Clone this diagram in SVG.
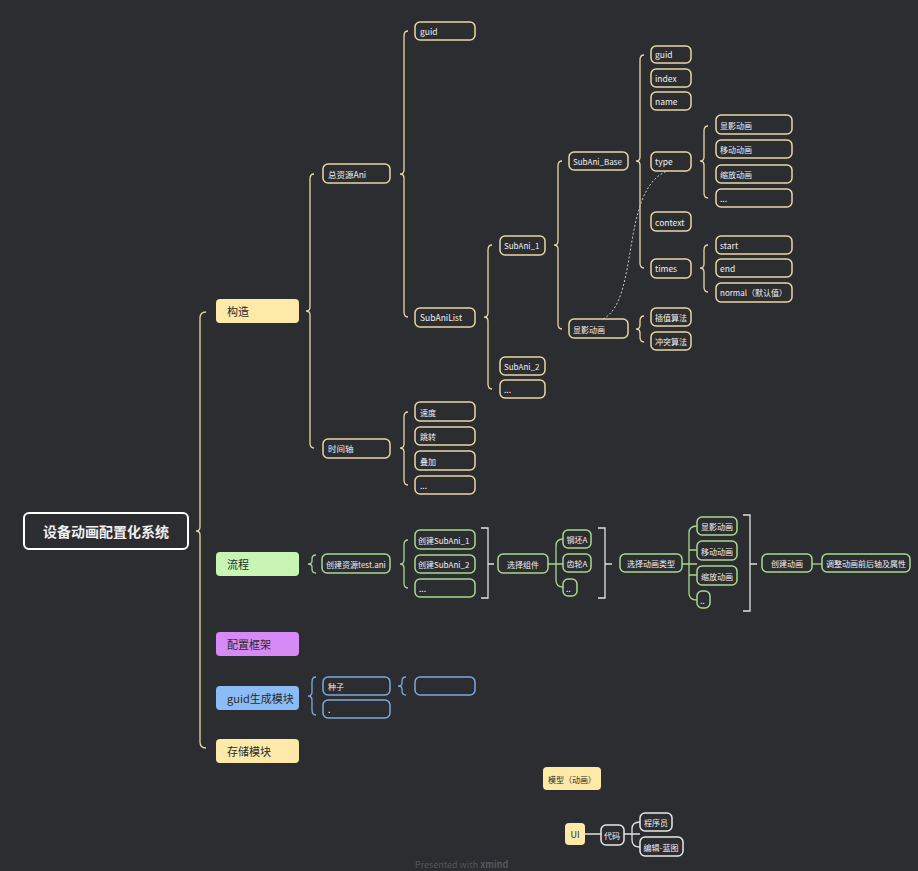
<svg xmlns="http://www.w3.org/2000/svg" width="918" height="871" viewBox="0 0 918 871">
<style>
text{font-family:"Noto Sans CJK SC","Noto Sans",sans-serif;font-size:8.5px;fill:#f0f0f0;dominant-baseline:central}
.y rect{fill:#2c2d30;stroke:#e6d7a3;stroke-width:1.5}
.g rect{fill:#2c2d30;stroke:#a9d68f;stroke-width:1.5}
.b rect{fill:#2c2d30;stroke:#7ea9dc;stroke-width:1.5}
.w rect{fill:#2c2d30;stroke:#e8e8e8;stroke-width:1.5}
.m text{fill:#2a2a2a;font-size:11px}
.by{fill:none;stroke:#e6d7a3;stroke-width:1.3}
.bg{fill:none;stroke:#a9d68f;stroke-width:1.3}
.bb{fill:none;stroke:#7ea9dc;stroke-width:1.3}
.bw{fill:none;stroke:#e0e0e0;stroke-width:1.3}
</style>
<rect width="918" height="871" fill="#2c2d30"/>
<g id="connectors">
<path class="by" d="M206 312 Q200 312 200 318 L200 527 Q200 531 196 531 Q200 531 200 535 L200 742 Q200 748 206 748"/>
<path class="by" d="M314 174 Q310 174 310 179 L310 307 Q310 311 306 311 Q310 311 310 315 L310 443 Q310 448 314 448"/>
<path class="by" d="M408 31 Q404 31 404 36 L404 170 Q404 174 400 174 Q404 174 404 178 L404 312 Q404 317 408 317"/>
<path class="by" d="M492 245 Q488 245 488 250 L488 313 Q488 317 484 317 Q488 317 488 321 L488 384 Q488 389 492 389"/>
<path class="by" d="M408 412 Q404 412 404 417 L404 444 Q404 448 400 448 Q404 448 404 452 L404 480 Q404 485 408 485"/>
<path class="by" d="M562 161 Q558 161 558 166 L558 241 Q558 245 554 245 Q558 245 558 249 L558 324 Q558 329 562 329"/>
<path class="by" d="M644 55 Q640 55 640 60 L640 157 Q640 161 636 161 Q640 161 640 165 L640 263 Q640 268 644 268"/>
<path class="by" d="M708 126 Q704 126 704 131 L704 157 Q704 161 700 161 Q704 161 704 165 L704 193 Q704 198 708 198"/>
<path class="by" d="M708 245 Q704 245 704 250 L704 264 Q704 268 700 268 Q704 268 704 272 L704 287 Q704 292 708 292"/>
<path class="by" d="M644 316 Q640 316 640 321 L640 325 Q640 329 636 329 Q640 329 640 333 L640 337 Q640 342 644 342"/>
<path d="M603 319 C640 300 620 190 667 171" fill="none" stroke="#cccccc" stroke-width="1" stroke-dasharray="2 2"/>
<path class="bg" d="M316 555 Q312 555 312 559 L312 561 Q312 564 308 564 Q312 564 312 567 L312 569 Q312 573 316 573"/>
<path class="bg" d="M408 540 Q404 540 404 545 L404 560 Q404 564 400 564 Q404 564 404 568 L404 583 Q404 588 408 588"/>
<path class="bw" d="M481 528 L488 528 L488 598 L481 598 M488 564 L494 564"/>
<path class="bg" d="M548 564 L563 564 M563 539 Q556 539 556 546 L556 580 Q556 587 563 587"/>
<path class="bw" d="M598 528 L605 528 L605 598 L598 598 M605 564 L612 564"/>
<path class="bg" d="M682 564 L697 564 M697 526 Q689 526 689 533 L689 593 Q689 600 697 600 M689 550 L697 550 M689 575 L697 575"/>
<path class="bw" d="M743 515 L750 515 L750 611 L743 611 M750 564 L757 564"/>
<path class="bg" d="M812 564 L822 564"/>
<path class="bb" d="M316 677 Q312 677 312 682 L312 692 Q312 696 308 696 Q312 696 312 700 L312 710 Q312 715 316 715"/>
<path class="bb" d="M406 677 Q402 677 402 681 L402 683 Q402 686 398 686 Q402 686 402 689 L402 691 Q402 695 406 695"/>
<path class="bw" d="M585 834 L601 834 M624 834 L640 834 M640 822 Q632 822 632 829 L632 840 Q632 847 640 847"/>
</g>
<g id="root"><rect x="24" y="513" width="164" height="36" rx="5" fill="#2c2d30" stroke="#ffffff" stroke-width="2"/><text x="106" y="531" text-anchor="middle" style="font-size:14px;font-weight:bold">设备动画配置化系统</text></g>
<g id="n-gouzao" class="m"><rect x="216" y="299" width="83" height="24" rx="4" fill="#fde9a8"/><text x="227" y="311">构造</text></g>
<g id="n-liucheng" class="m"><rect x="216" y="552" width="83" height="24" rx="4" fill="#c8f5b4"/><text x="227" y="564">流程</text></g>
<g id="n-peizhi" class="m"><rect x="216" y="632" width="83" height="24" rx="4" fill="#d68af5"/><text x="227" y="644">配置框架</text></g>
<g id="n-guidmod" class="m"><rect x="216" y="686" width="83" height="24" rx="4" fill="#8bbcf5"/><text x="227" y="698">guid生成模块</text></g>
<g id="n-cunchu" class="m"><rect x="216" y="739" width="83" height="24" rx="4" fill="#fde9a8"/><text x="227" y="751">存储模块</text></g>
<g class="y">
<g id="n1"><rect x="323" y="164" width="67" height="19" rx="5"/><text x="328" y="174">总资源Ani</text></g>
<g id="n2"><rect x="323" y="439" width="67" height="19" rx="5"/><text x="328" y="448">时间轴</text></g>
<g id="n3"><rect x="415" y="22" width="60" height="18" rx="5"/><text x="420" y="31">guid</text></g>
<g id="n4"><rect x="415" y="308" width="60" height="19" rx="5"/><text x="420" y="317">SubAniList</text></g>
<g id="n5"><rect x="500" y="236" width="45" height="19" rx="5"/><text x="504" y="245" style="font-size:8px">SubAni_1</text></g>
<g id="n6"><rect x="500" y="357" width="45" height="18" rx="5"/><text x="504" y="366" style="font-size:8px">SubAni_2</text></g>
<g id="n7"><rect x="500" y="380" width="45" height="18" rx="5"/><text x="504" y="389">...</text></g>
<g id="n8"><rect x="415" y="402" width="60" height="19" rx="5"/><text x="420" y="412" style="font-size:8px">速度</text></g>
<g id="n9"><rect x="415" y="427" width="60" height="18" rx="5"/><text x="420" y="436" style="font-size:8px">跳转</text></g>
<g id="n10"><rect x="415" y="451" width="60" height="19" rx="5"/><text x="420" y="461" style="font-size:8px">叠加</text></g>
<g id="n11"><rect x="415" y="476" width="60" height="18" rx="5"/><text x="420" y="485">...</text></g>
<g id="n12"><rect x="569" y="152" width="59" height="18" rx="5"/><text x="573" y="161" style="font-size:8px">SubAni_Base</text></g>
<g id="n13"><rect x="569" y="319" width="59" height="19" rx="5"/><text x="573" y="329" style="font-size:8px">显影动画</text></g>
<g id="n14"><rect x="651" y="46" width="40" height="17" rx="5"/><text x="655" y="54">guid</text></g>
<g id="n15"><rect x="651" y="69" width="40" height="18" rx="5"/><text x="655" y="78">index</text></g>
<g id="n16"><rect x="651" y="92" width="40" height="18" rx="5"/><text x="655" y="101">name</text></g>
<g id="n17"><rect x="651" y="152" width="40" height="19" rx="5"/><text x="655" y="161">type</text></g>
<g id="n18"><rect x="651" y="212" width="40" height="19" rx="5"/><text x="655" y="222">context</text></g>
<g id="n19"><rect x="651" y="259" width="40" height="19" rx="5"/><text x="655" y="268">times</text></g>
<g id="n20"><rect x="716" y="115" width="76" height="19" rx="5"/><text x="720" y="125" style="font-size:8px">显影动画</text></g>
<g id="n21"><rect x="716" y="140" width="76" height="18" rx="5"/><text x="720" y="149" style="font-size:8px">移动动画</text></g>
<g id="n22"><rect x="716" y="165" width="76" height="18" rx="5"/><text x="720" y="174" style="font-size:8px">缩放动画</text></g>
<g id="n23"><rect x="716" y="189" width="76" height="18" rx="5"/><text x="720" y="198">...</text></g>
<g id="n24"><rect x="716" y="236" width="76" height="18" rx="5"/><text x="720" y="245">start</text></g>
<g id="n25"><rect x="716" y="259" width="76" height="18" rx="5"/><text x="720" y="268">end</text></g>
<g id="n26"><rect x="716" y="283" width="76" height="19" rx="5"/><text x="720" y="292" style="font-size:8px">normal（默认值）</text></g>
<g id="n27"><rect x="651" y="308" width="40" height="18" rx="5"/><text x="655" y="317" style="font-size:8px">插值算法</text></g>
<g id="n28"><rect x="651" y="332" width="40" height="18" rx="5"/><text x="655" y="341" style="font-size:8px">冲突算法</text></g>
</g>
<g class="g">
<g id="f1"><rect x="322" y="554" width="68" height="19" rx="5"/><text x="326" y="564" style="font-size:8px">创建资源test.ani</text></g>
<g id="f2"><rect x="415" y="530" width="60" height="19" rx="5"/><text x="418" y="540" style="font-size:8px">创建SubAni_1</text></g>
<g id="f3"><rect x="415" y="555" width="60" height="18" rx="5"/><text x="418" y="564" style="font-size:8px">创建SubAni_2</text></g>
<g id="f4"><rect x="415" y="579" width="60" height="18" rx="5"/><text x="419" y="588">...</text></g>
<g id="f5"><rect x="498" y="554" width="50" height="19" rx="5"/><text x="523" y="564" text-anchor="middle" style="font-size:8px">选择组件</text></g>
<g id="f6"><rect x="563" y="530" width="28" height="18" rx="5"/><text x="577" y="539" text-anchor="middle" style="font-size:8px">钢坯A</text></g>
<g id="f7"><rect x="563" y="554" width="28" height="18" rx="5"/><text x="577" y="563" text-anchor="middle" style="font-size:8px">齿轮A</text></g>
<g id="f8"><rect x="563" y="579" width="14" height="17" rx="5"/><text x="566" y="588">..</text></g>
<g id="f9"><rect x="620" y="554" width="62" height="18" rx="5"/><text x="651" y="563" text-anchor="middle" style="font-size:8px">选择动画类型</text></g>
<g id="f10"><rect x="697" y="517" width="40" height="18" rx="5"/><text x="717" y="526" text-anchor="middle" style="font-size:8px">显影动画</text></g>
<g id="f11"><rect x="697" y="541" width="40" height="19" rx="5"/><text x="717" y="551" text-anchor="middle" style="font-size:8px">移动动画</text></g>
<g id="f12"><rect x="697" y="566" width="40" height="19" rx="5"/><text x="717" y="576" text-anchor="middle" style="font-size:8px">缩放动画</text></g>
<g id="f13"><rect x="697" y="591" width="13" height="17" rx="5"/><text x="700" y="600">..</text></g>
<g id="f14"><rect x="762" y="554" width="50" height="18" rx="5"/><text x="787" y="563" text-anchor="middle" style="font-size:8px">创建动画</text></g>
<g id="f15"><rect x="822" y="554" width="88" height="18" rx="5"/><text x="866" y="563" text-anchor="middle" style="font-size:8px">调整动画前后轴及属性</text></g>
</g>
<g class="b">
<g id="b1"><rect x="323" y="677" width="67" height="18" rx="5"/><text x="328" y="686" style="font-size:8px">种子</text></g>
<g id="b2"><rect x="323" y="700" width="67" height="18" rx="5"/><text x="328" y="709">.</text></g>
<g id="b3"><rect x="415" y="677" width="60" height="18" rx="5"/></g>
</g>
<g id="u1" class="m"><rect x="543" y="767" width="58" height="23" rx="4" fill="#fde9a8"/><text x="572" y="779" text-anchor="middle" style="font-size:8px">模型（动画）</text></g>
<g id="u2" class="m"><rect x="565" y="823" width="20" height="22" rx="4" fill="#fde9a8"/><text x="575" y="834" text-anchor="middle" style="font-size:9px">UI</text></g>
<g class="w">
<g id="u3"><rect x="601" y="825" width="23" height="20" rx="5"/><text x="612" y="835" text-anchor="middle" style="font-size:8px">代码</text></g>
<g id="u4"><rect x="640" y="813" width="32" height="18" rx="5"/><text x="656" y="822" text-anchor="middle" style="font-size:8px">程序员</text></g>
<g id="u5"><rect x="640" y="837" width="43" height="19" rx="5"/><text x="661" y="847" text-anchor="middle" style="font-size:8px">编辑-蓝图</text></g>
</g>
<text x="415" y="864" style="fill:#55575c;font-size:9px">Presented with <tspan style="font-weight:bold">xmind</tspan></text>
</svg>
